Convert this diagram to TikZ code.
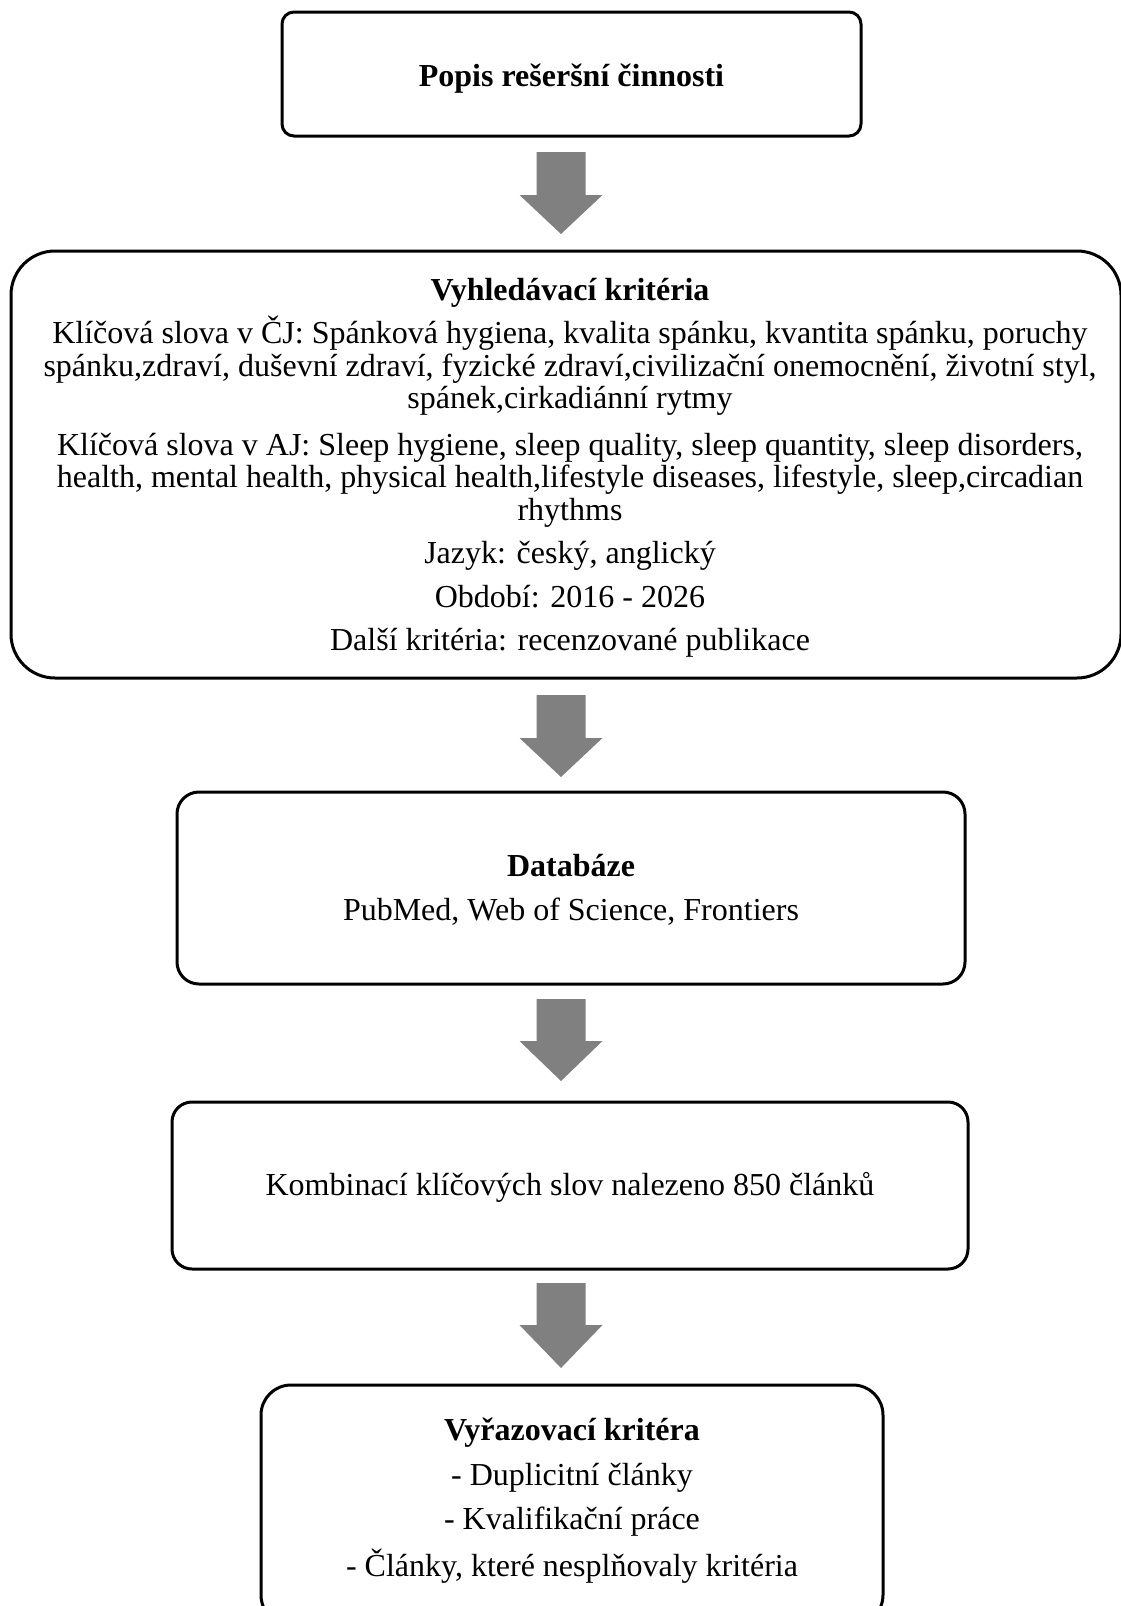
\documentclass[tikz,border=0pt]{standalone}
\usepackage{fontspec}
\setmainfont{Liberation Serif}
\definecolor{arrowgray}{RGB}{128,128,128}
\tikzset{
  boxstyle/.style={draw=black, line width=3pt, inner sep=0pt},
  textstyle/.style={align=center, inner sep=0pt,
    font=\fontsize{32}{32.5}\selectfont},
  arrowfill/.style={fill=arrowgray, draw=none}
}
\newcommand\dnarrow[4]{% x, top, headstart, tip
  \fill[arrowfill] (#1-24.5,#2) -- (#1+24.5,#2) -- (#1+24.5,#3) -- (#1+41.5,#3)
    -- (#1,#4) -- (#1-41.5,#3) -- (#1-24.5,#3) -- cycle;}
\begin{document}
\begin{tikzpicture}[x=1pt,y=-1pt]
\useasboundingbox (0,0) rectangle (1121,1606);
\clip (0,0) rectangle (1121,1606);
% boxes
\node[boxstyle, rounded corners=12pt, minimum width=579pt, minimum height=124pt] (b1) at (571.5,74) {};
\node[boxstyle, rounded corners=44pt, minimum width=1110pt, minimum height=427pt] (b2) at (566,464.5) {};
\node[boxstyle, rounded corners=22pt, minimum width=788pt, minimum height=192pt] (b3) at (571,888) {};
\node[boxstyle, rounded corners=20pt, minimum width=796pt, minimum height=167pt] (b4) at (570,1185.5) {};
\node[boxstyle, rounded corners=30pt, minimum width=622pt, minimum height=240pt] (b5) at (572,1505) {};
% texts
\node[textstyle] (t1) at ([yshift=-5pt]b1.center) {\textbf{Popis rešeršní činnosti}};
\node[textstyle] (t2) at ([yshift=-3.5pt,xshift=4pt]b2.center)
  {\textbf{Vyhledávací kritéria}\\[8pt]
   Klíčová slova v ČJ: Spánková hygiena, kvalita spánku, kvantita spánku, poruchy\\
   spánku,zdraví, duševní zdraví, fyzické zdraví,civilizační onemocnění, životní styl,\\
   spánek,cirkadiánní rytmy\\[14pt]
   Klíčová slova v AJ: Sleep hygiene, sleep quality, sleep quantity, sleep disorders,\\
   health, mental health, physical health,lifestyle diseases, lifestyle, sleep,circadian\\
   rhythms\\[11pt]
   Jazyk: český, anglický\\[11pt]
   Období: 2016 - 2026\\[11pt]
   Další kritéria: recenzované publikace};
\node[textstyle] (t3) at ([yshift=-2pt]b3.center)
  {\textbf{Databáze}\\[11.5pt]
   PubMed, Web of Science, Frontiers};
\node[textstyle] (t4) at ([yshift=-2pt]b4.center)
  {Kombinací klíčových slov nalezeno 850 článků};
\node[textstyle] (t5) at (572,1501)
  {\textbf{Vyřazovací kritéra}\\[12pt]
   - Duplicitní články\\[12pt]
   - Kvalifikační práce\\[12pt]
   - Články, které nesplňovaly kritéria};
% block arrows between boxes
\dnarrow{561}{152}{195}{234}
\dnarrow{561}{695}{738}{777}
\dnarrow{561}{999}{1041}{1081}
\dnarrow{561}{1283}{1325}{1368}
\end{tikzpicture}
\end{document}
